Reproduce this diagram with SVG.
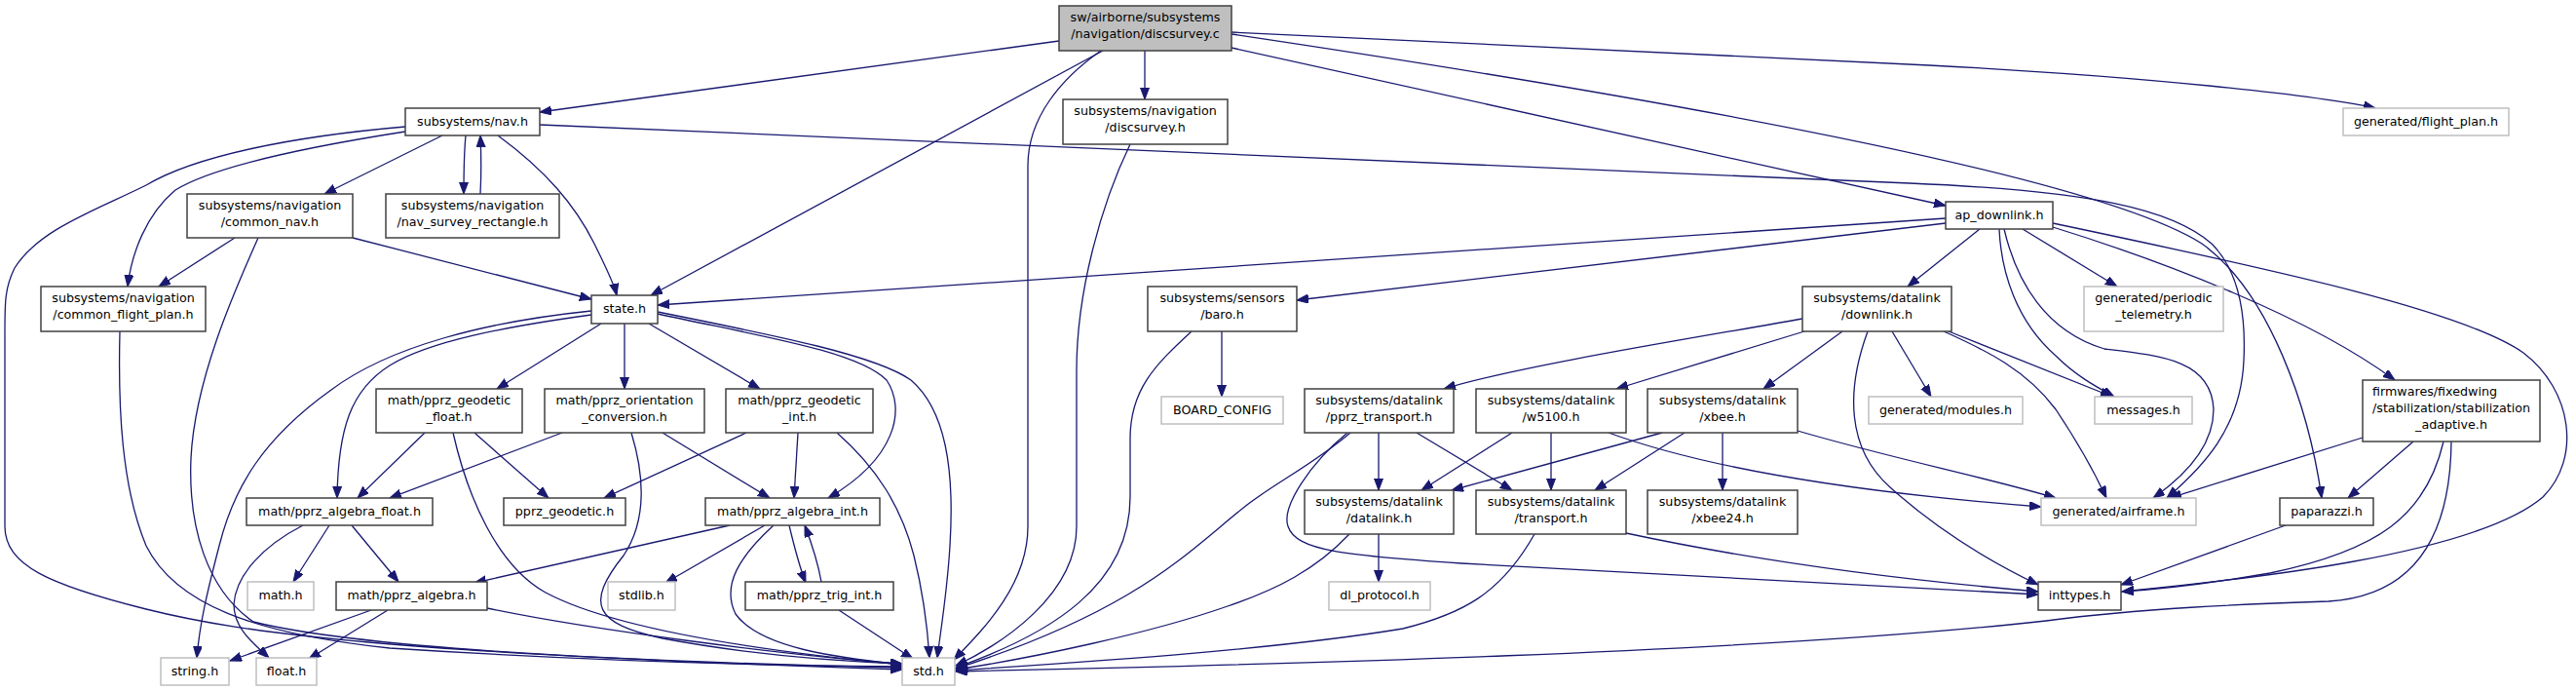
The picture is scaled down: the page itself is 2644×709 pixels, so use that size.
<svg xmlns="http://www.w3.org/2000/svg" width="2644" height="709" viewBox="0 0 2644 709">
<style>
.n rect{fill:#fff;stroke:#404040;stroke-width:1.5}
.g rect{fill:#fff;stroke:#bfbfbf;stroke-width:1.5}
.r rect{fill:#bfbfbf;stroke:#404040;stroke-width:1.5}
text{font-family:"DejaVu Sans","Liberation Sans",sans-serif;font-size:12.7px;fill:#000;text-anchor:middle}
text.l{text-anchor:start}
#edges path{fill:none;stroke:#191970;stroke-width:1.3;marker-end:url(#a)}
</style>
<defs>
<marker id="a" markerWidth="13" markerHeight="10" refX="12" refY="4.5" orient="auto" markerUnits="userSpaceOnUse" viewBox="0 0 13 10"><path d="M0,0 L12,4.5 L0,9 z" fill="#191970" stroke="#191970" stroke-width="1"/></marker>
</defs>
<rect width="2644" height="709" fill="#fff"/>
<g id="edges">
<path d="M1087,42 L554,115"/>
<path d="M1175,52 L1175,102"/>
<path d="M1132,52 L668,303"/>
<path d="M1130,52 C1090,80 1055,120 1055,170 L1055,540 C1055,600 1010,645 979,677"/>
<path d="M1264,33 L1980,67 C2200,78 2380,98 2438,111"/>
<path d="M1264,49 L1997,211"/>
<path d="M1264,35 C1700,100 2150,180 2260,250 C2330,300 2370,420 2383,511"/>
<path d="M554,128 L1960,188 C2150,196 2230,215 2270,250 C2300,280 2305,330 2303,370 C2300,440 2260,480 2224,511"/>
<path d="M1997,224 L675,313"/>
<path d="M1997,229 L1331,308"/>
<path d="M2032,235 L1958,294"/>
<path d="M2076,235 L2173,294"/>
<path d="M2052,235 C2054,280 2070,330 2110,365 C2130,385 2150,396 2170,407"/>
<path d="M2057,235 C2070,290 2100,340 2160,358 C2220,365 2270,370 2272,420 C2272,460 2240,490 2210,511"/>
<path d="M2107,233 C2220,268 2370,325 2458,390"/>
<path d="M2107,229 C2350,280 2530,320 2590,362 C2640,400 2650,470 2610,510 C2540,570 2300,595 2178,607"/>
<path d="M1160,148 C1130,210 1105,300 1105,380 L1105,540 C1105,610 1030,660 981,683"/>
<path d="M1254,340 L1254,407"/>
<path d="M1223,340 C1185,375 1160,400 1160,450 L1160,510 C1160,600 1080,650 981,685"/>
<path d="M1850,327 C1750,345 1560,375 1482,399"/>
<path d="M1852,340 L1659,399"/>
<path d="M1891,340 L1810,399"/>
<path d="M1942,340 L1982,407"/>
<path d="M2000,340 L2168,407"/>
<path d="M1995,340 C2040,360 2080,380 2110,420 C2130,450 2150,485 2162,511"/>
<path d="M1917,340 C1895,400 1895,460 1940,500 C1990,545 2040,575 2092,600"/>
<path d="M1415,444 L1415,503"/>
<path d="M1454,444 L1552,503"/>
<path d="M1383,444 C1345,475 1315,520 1322,540 C1330,565 1380,570 1500,578 L2092,610"/>
<path d="M1386,444 C1350,475 1310,495 1280,518 C1220,565 1170,625 981,686"/>
<path d="M1552,444 L1459,503"/>
<path d="M1592,444 L1592,503"/>
<path d="M1651,444 C1750,480 1900,505 2095,520"/>
<path d="M1706,444 L1490,503"/>
<path d="M1729,444 L1637,503"/>
<path d="M1768,444 L1768,503"/>
<path d="M1845,442 C1940,470 2040,490 2110,511"/>
<path d="M1415,548 L1415,597"/>
<path d="M1385,548 C1350,585 1310,605 1260,622 C1180,650 1060,675 981,687"/>
<path d="M1669,547 C1800,575 1950,595 2092,607"/>
<path d="M1575,548 C1540,610 1500,630 1440,645 C1300,668 1100,680 981,688"/>
<path d="M2425,449 L2227,511"/>
<path d="M2477,453 L2410,511"/>
<path d="M2508,453 C2490,530 2440,565 2330,588 C2260,600 2210,605 2178,607"/>
<path d="M2516,453 C2515,560 2470,612 2390,617 C2300,620 2200,624 2100,637 C1800,670 1300,682 981,689"/>
<path d="M2346,539 L2177,600"/>
<path d="M454,139 L333,199"/>
<path d="M478,139 C476,160 476,180 476,199"/>
<path d="M493,199 C494,180 494,160 493,139"/>
<path d="M511,139 C560,175 590,210 610,250 C622,275 630,290 633,303"/>
<path d="M416,135 C320,150 220,170 180,195 C150,220 135,260 131,294"/>
<path d="M416,130 C300,140 200,160 150,190 C100,215 40,235 15,275 C5,295 5,310 5,340 L5,540 C5,580 50,600 150,625 C250,650 400,670 926,687"/>
<path d="M241,244 L163,294"/>
<path d="M362,244 L607,307"/>
<path d="M265,244 C240,300 200,390 196,470 C193,540 212,605 260,638 C380,668 700,680 926,685"/>
<path d="M123,340 C121,420 125,500 150,560 C180,620 260,650 400,665 C600,678 800,683 926,684"/>
<path d="M617,332 L510,399"/>
<path d="M641,332 L641,399"/>
<path d="M666,332 L780,399"/>
<path d="M607,323 C520,335 440,350 400,375 C360,400 347,440 346,511"/>
<path d="M607,319 C500,330 400,355 340,400 C270,450 240,500 225,560 C212,610 205,640 202,675"/>
<path d="M675,322 C780,345 880,360 910,390 C930,420 920,470 850,511"/>
<path d="M675,320 C800,345 900,365 935,390 C970,420 980,480 975,560 C972,610 965,650 962,675"/>
<path d="M436,444 L367,511"/>
<path d="M487,444 L563,511"/>
<path d="M465,444 C480,510 510,580 560,608 C620,640 750,665 926,682"/>
<path d="M577,444 L400,511"/>
<path d="M680,444 L790,511"/>
<path d="M648,444 C665,500 660,540 640,570 C600,620 610,640 680,655 C760,670 850,678 926,681"/>
<path d="M766,444 L620,511"/>
<path d="M819,444 L815,511"/>
<path d="M859,444 C900,480 925,520 938,570 C948,610 952,645 954,675"/>
<path d="M338,539 L301,597"/>
<path d="M361,539 L409,597"/>
<path d="M311,539 C270,560 242,590 240,620 C240,645 260,660 276,675"/>
<path d="M749,539 L487,598"/>
<path d="M785,539 L683,598"/>
<path d="M810,539 C815,560 820,580 827,598"/>
<path d="M843,597 C840,580 834,560 826,539"/>
<path d="M794,539 C760,570 740,600 755,630 C780,665 860,675 926,682"/>
<path d="M861,626 L937,676"/>
<path d="M381,626 L236,678"/>
<path d="M398,626 L317,676"/>
<path d="M500,624 C600,645 800,672 926,681"/>
</g>
<g id="root" class="r"><rect x="1087" y="6" width="177" height="46"/><text x="1175.5" y="22">sw/airborne/subsystems</text><text x="1175.5" y="39">/navigation/discsurvey.c</text></g>
<g id="nav" class="n"><rect x="416" y="111" width="138" height="28"/><text x="485" y="129">subsystems/nav.h</text></g>
<g id="discsurvey_h" class="n"><rect x="1091" y="102" width="169" height="46"/><text x="1175.5" y="118">subsystems/navigation</text><text x="1175.5" y="135">/discsurvey.h</text></g>
<g id="flight_plan" class="g"><rect x="2405" y="111" width="170" height="28"/><text x="2490" y="129">generated/flight_plan.h</text></g>
<g id="common_nav" class="n"><rect x="192" y="199" width="170" height="45"/><text x="277" y="215">subsystems/navigation</text><text x="277" y="232">/common_nav.h</text></g>
<g id="nav_survey_rectangle" class="n"><rect x="396" y="199" width="178" height="45"/><text x="485" y="215">subsystems/navigation</text><text x="485" y="232">/nav_survey_rectangle.h</text></g>
<g id="ap_downlink" class="n"><rect x="1997" y="207" width="110" height="28"/><text x="2052" y="225">ap_downlink.h</text></g>
<g id="common_flight_plan" class="n"><rect x="42" y="294" width="169" height="46"/><text x="126.5" y="310">subsystems/navigation</text><text x="126.5" y="327">/common_flight_plan.h</text></g>
<g id="state" class="n"><rect x="607" y="303" width="68" height="29"/><text x="641" y="321">state.h</text></g>
<g id="baro" class="n"><rect x="1178" y="294" width="153" height="46"/><text x="1254.5" y="310">subsystems/sensors</text><text x="1254.5" y="327">/baro.h</text></g>
<g id="downlink" class="n"><rect x="1850" y="294" width="153" height="46"/><text x="1926.5" y="310">subsystems/datalink</text><text x="1926.5" y="327">/downlink.h</text></g>
<g id="periodic_telemetry" class="g"><rect x="2139" y="294" width="143" height="46"/><text x="2210.5" y="310">generated/periodic</text><text x="2210.5" y="327">_telemetry.h</text></g>
<g id="geodetic_float" class="n"><rect x="386" y="399" width="150" height="45"/><text x="461" y="415">math/pprz_geodetic</text><text x="461" y="432">_float.h</text></g>
<g id="orientation_conversion" class="n"><rect x="559" y="399" width="164" height="45"/><text x="641" y="415">math/pprz_orientation</text><text x="641" y="432">_conversion.h</text></g>
<g id="geodetic_int" class="n"><rect x="745" y="399" width="151" height="45"/><text x="820.5" y="415">math/pprz_geodetic</text><text x="820.5" y="432">_int.h</text></g>
<g id="pprz_transport" class="n"><rect x="1339" y="399" width="153" height="45"/><text x="1415.5" y="415">subsystems/datalink</text><text x="1415.5" y="432">/pprz_transport.h</text></g>
<g id="w5100" class="n"><rect x="1515" y="399" width="154" height="45"/><text x="1592" y="415">subsystems/datalink</text><text x="1592" y="432">/w5100.h</text></g>
<g id="xbee" class="n"><rect x="1691" y="399" width="154" height="45"/><text x="1768" y="415">subsystems/datalink</text><text x="1768" y="432">/xbee.h</text></g>
<g id="board_config" class="g"><rect x="1192" y="407" width="125" height="28"/><text x="1254.5" y="425">BOARD_CONFIG</text></g>
<g id="modules" class="g"><rect x="1918" y="407" width="158" height="28"/><text x="1997" y="425">generated/modules.h</text></g>
<g id="messages" class="g"><rect x="2150" y="407" width="100" height="28"/><text x="2200" y="425">messages.h</text></g>
<g id="stabilization_adaptive" class="n"><rect x="2425" y="390" width="182" height="63"/><text class="l" x="2435" y="406">firmwares/fixedwing</text><text class="l" x="2435" y="423">/stabilization/stabilization</text><text x="2516" y="440">_adaptive.h</text></g>
<g id="algebra_float" class="n"><rect x="253" y="511" width="191" height="28"/><text x="348.5" y="529">math/pprz_algebra_float.h</text></g>
<g id="pprz_geodetic" class="n"><rect x="517" y="511" width="125" height="28"/><text x="579.5" y="529">pprz_geodetic.h</text></g>
<g id="algebra_int" class="n"><rect x="724" y="511" width="179" height="28"/><text x="813.5" y="529">math/pprz_algebra_int.h</text></g>
<g id="airframe" class="g"><rect x="2095" y="511" width="159" height="28"/><text x="2174.5" y="529">generated/airframe.h</text></g>
<g id="paparazzi" class="n"><rect x="2340" y="511" width="96" height="28"/><text x="2388" y="529">paparazzi.h</text></g>
<g id="datalink" class="n"><rect x="1339" y="503" width="153" height="45"/><text x="1415.5" y="519">subsystems/datalink</text><text x="1415.5" y="536">/datalink.h</text></g>
<g id="transport" class="n"><rect x="1515" y="503" width="154" height="45"/><text x="1592" y="519">subsystems/datalink</text><text x="1592" y="536">/transport.h</text></g>
<g id="xbee24" class="n"><rect x="1691" y="503" width="154" height="45"/><text x="1768" y="519">subsystems/datalink</text><text x="1768" y="536">/xbee24.h</text></g>
<g id="math" class="g"><rect x="254" y="597" width="68" height="29"/><text x="288" y="615">math.h</text></g>
<g id="pprz_algebra" class="n"><rect x="345" y="597" width="155" height="29"/><text x="422.5" y="615">math/pprz_algebra.h</text></g>
<g id="stdlib" class="g"><rect x="624" y="597" width="69" height="29"/><text x="658.5" y="615">stdlib.h</text></g>
<g id="trig_int" class="n"><rect x="765" y="597" width="152" height="29"/><text x="841" y="615">math/pprz_trig_int.h</text></g>
<g id="dl_protocol" class="g"><rect x="1364" y="597" width="104" height="29"/><text x="1416" y="615">dl_protocol.h</text></g>
<g id="inttypes" class="n"><rect x="2092" y="597" width="85" height="29"/><text x="2134.5" y="615">inttypes.h</text></g>
<g id="string" class="g"><rect x="165" y="675" width="70" height="28"/><text x="200" y="693">string.h</text></g>
<g id="float" class="g"><rect x="263" y="675" width="62" height="28"/><text x="294" y="693">float.h</text></g>
<g id="std" class="g"><rect x="926" y="675" width="54" height="28"/><text x="953" y="693">std.h</text></g>
</svg>
